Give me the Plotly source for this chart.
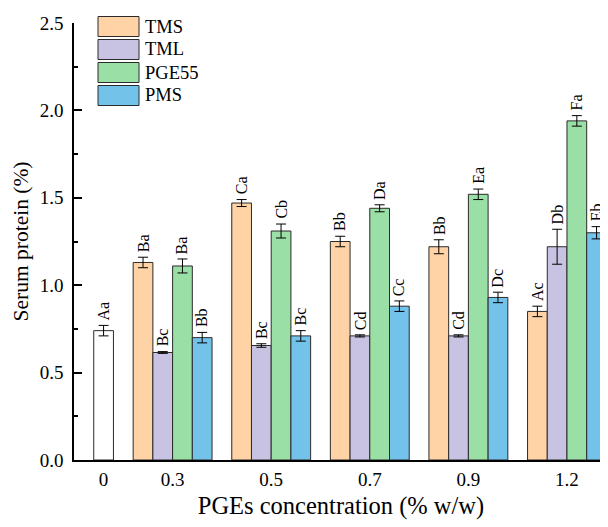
import plotly.graph_objects as go

# ---------------- data ----------------
categories = ["0", "0.3", "0.5", "0.7", "0.9", "1.2"]
series_names = ["TMS", "TML", "PGE55", "PMS"]

control_value = [0.74]
control_error = [0.03]
control_label = ["Aa"]

tms = [1.13, 1.47, 1.25, 1.22, 0.85]
tms_err = [0.03, 0.02, 0.03, 0.04, 0.03]
tms_lab = ["Ba", "Ca", "Bb", "Bb", "Ac"]

tml = [0.615, 0.655, 0.71, 0.71, 1.22]
tml_err = [0.005, 0.01, 0.006, 0.006, 0.10]
tml_lab = ["Bc", "Bc", "Cd", "Cd", "Db"]

pge55 = [1.11, 1.31, 1.44, 1.52, 1.94]
pge55_err = [0.04, 0.04, 0.02, 0.03, 0.03]
pge55_lab = ["Ba", "Cb", "Da", "Ea", "Fa"]

pms = [0.70, 0.71, 0.88, 0.93, 1.30]
pms_err = [0.03, 0.03, 0.03, 0.03, 0.035]
pms_lab = ["Bb", "Bc", "Cc", "Dc", "Eb"]

y_ticks = [0.0, 0.5, 1.0, 1.5, 2.0, 2.5]

# ---------------- styles ----------------
colors = ["#FFD3A5", "#C9C3E3", "#9ADFA5", "#72C2EA"]
FONT = "Liberation Serif"
outline = dict(color="#2b2b2b", width=1)
LABEL_SIZE = 16

values = [tms, tml, pge55, pms]
errors = [tms_err, tml_err, pge55_err, pms_err]
labels = [tms_lab, tml_lab, pge55_lab, pms_lab]

# slot-based layout: each slot = one bar width
n_series = len(series_names)
group_slots = n_series + 1          # four bars + one gap
control_pos = 1.5
group_pos = [3 + n_series / 2 + group_slots * k for k in range(len(categories) - 1)]
tick_pos = [control_pos] + group_pos

fig = go.Figure()

fig.add_trace(go.Bar(
    x=[control_pos], y=control_value, width=1, offset=-0.5,
    marker=dict(color="white", line=outline),
    error_y=dict(type="data", array=control_error, color="black", thickness=1, width=5),
    showlegend=False, name="Control"))

annotations = []
annotations.append(dict(x=control_pos, y=control_value[0] + control_error[0], text=control_label[0],
                        textangle=-90, yanchor="bottom", xanchor="center", showarrow=False, yshift=3,
                        font=dict(family=FONT, size=LABEL_SIZE, color="black")))

for j, name in enumerate(series_names):
    off = -n_series / 2 + j
    fig.add_trace(go.Bar(
        x=group_pos, y=values[j], width=1, offset=off, name=name,
        marker=dict(color=colors[j], line=outline),
        error_y=dict(type="data", array=errors[j], color="black", thickness=1, width=5),
        showlegend=False))
    for k in range(len(group_pos)):
        annotations.append(dict(
            x=group_pos[k] + off + 0.5, y=values[j][k] + errors[j][k], text=labels[j][k],
            textangle=-90, yanchor="bottom", xanchor="center", showarrow=False, yshift=3,
            font=dict(family=FONT, size=LABEL_SIZE, color="black")))

# page has an 8px body margin: figure is 600x519 placed at (8, 8)
W, H = 600, 519
ml, mr, mt, mb = 66, 0, 15, 67
pw, ph = W - ml - mr, H - mt - mb
PAGE = 8
shapes = []
for j, name in enumerate(series_names):
    top_px = 16.5 + 23 * j - PAGE
    x0 = (98 - PAGE - ml) / pw
    x1 = (139 - PAGE - ml) / pw
    ytop = (H - mb - top_px) / ph
    ybot = (H - mb - top_px - 20) / ph
    shapes.append(dict(type="rect", xref="paper", yref="paper", x0=x0, x1=x1, y0=ybot, y1=ytop,
                       fillcolor=colors[j], line=dict(color="#2b2b2b", width=1)))
    annotations.append(dict(xref="paper", yref="paper", x=(143 - PAGE - ml) / pw,
                            y=(H - mb - top_px - 10) / ph,
                            text=name, showarrow=False, xanchor="left", yanchor="middle",
                            font=dict(family=FONT, size=18.5, color="black")))

fig.update_layout(
    width=W, height=H,
    margin=dict(l=ml, r=mr, t=mt, b=mb, autoexpand=False),
    plot_bgcolor="white", paper_bgcolor="white",
    barmode="overlay",
    font=dict(family=FONT, color="black"),
    annotations=annotations, shapes=shapes,
    showlegend=False,
)
fig.update_xaxes(
    range=[0, 27.08], tickvals=tick_pos, ticktext=categories,
    showline=True, linecolor="black", linewidth=1.5, showgrid=False, zeroline=False,
    ticks="", tickfont=dict(family=FONT, size=19), ticklabelstandoff=1,
    title=dict(text="PGEs concentration (% w/w)", font=dict(family=FONT, size=24.5), standoff=8),
    automargin=False,
)
fig.update_yaxes(
    range=[0, 2.5], tickvals=y_ticks, ticktext=[f"{v:.1f}" for v in y_ticks],
    showline=True, linecolor="black", linewidth=1.5, showgrid=False, zeroline=False,
    ticks="inside", ticklen=8, tickwidth=1.5, tickcolor="black",
    minor=dict(ticks="inside", ticklen=4, tickwidth=1.5, tickcolor="black", dtick=0.25, showgrid=False),
    tickfont=dict(family=FONT, size=19), ticklabelstandoff=5,
    title=dict(text="Serum protein (%)", font=dict(family=FONT, size=21.5), standoff=5),
    automargin=False,
)

fig.write_html("out.html")
